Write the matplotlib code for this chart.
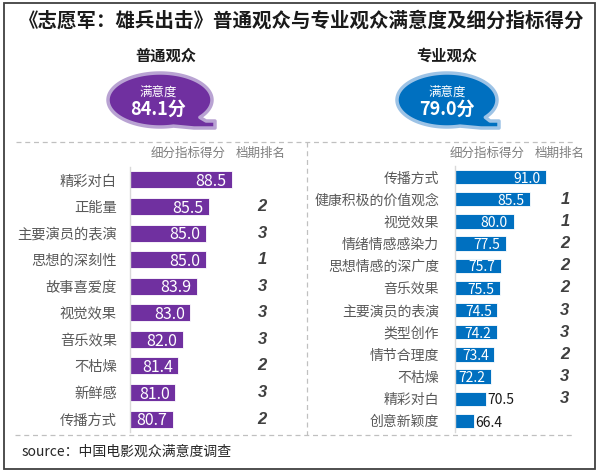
import matplotlib
matplotlib.use('Agg')
import matplotlib.pyplot as plt
import matplotlib.transforms as mtransforms
from matplotlib.patches import Polygon, Rectangle
import numpy as np

plt.rcParams['font.family'] = ['Noto Sans CJK SC', 'DejaVu Sans']

# ---- data ----
title = '《志愿军：雄兵出击》普通观众与专业观众满意度及细分指标得分'
groups = ['普通观众', '专业观众']
overall = [84.1, 79.0]

left_cats = ['精彩对白', '正能量', '主要演员的表演', '思想的深刻性', '故事喜爱度',
             '视觉效果', '音乐效果', '不枯燥', '新鲜感', '传播方式']
left_vals = [88.5, 85.5, 85.0, 85.0, 83.9, 83.0, 82.0, 81.4, 81.0, 80.7]
left_rank = ['', '2', '3', '1', '3', '3', '3', '2', '3', '2']

right_cats = ['传播方式', '健康积极的价值观念', '视觉效果', '情绪情感感染力', '思想情感的深广度',
              '音乐效果', '主要演员的表演', '类型创作', '情节合理度', '不枯燥', '精彩对白', '创意新颖度']
right_vals = [91.0, 85.5, 80.0, 77.5, 75.7, 75.5, 74.5, 74.2, 73.4, 72.2, 70.5, 66.4]
right_rank = ['', '1', '1', '2', '2', '2', '3', '3', '2', '3', '3', '']

PURPLE = '#7030A0'
BLUE = '#0070C0'
W, H = 600, 476

fig = plt.figure(figsize=(W / 100, H / 100), dpi=100)

# background axes in pixel coordinates (y down)
bg = fig.add_axes([0, 0, 1, 1])
bg.set_xlim(0, W)
bg.set_ylim(H, 0)
bg.axis('off')


def px_axes(x0, y0, x1, y1):
    return fig.add_axes([x0 / W, 1 - y1 / H, (x1 - x0) / W, (y1 - y0) / H])


# outer frame and dashed guides
bg.add_patch(Rectangle((4, 3), 591, 466, fill=False, ec='#404040', lw=1.3))
dash = dict(color='#c0c0c0', lw=0.9, ls=(0, (4, 3)))
bg.plot([16, 575], [142, 142], **dash)
bg.plot([15, 575], [435, 435], **dash)
bg.plot([307, 307], [142, 435], **dash)

bg.text(302, 21, title, ha='center', va='center', fontsize=14, fontweight='bold', color='#1a1a1a')


def bubble(cx, cy, a, b, tail_x, fc, ec):
    t1 = np.linspace(np.radians(75), np.radians(400), 120)
    pts = [(cx + a * np.cos(t), cy + b * np.sin(t)) for t in t1]
    pts += [(tail_x - 9, cy + 21), (tail_x, cy + 21), (tail_x, cy + 28), (cx + 34, cy + 28)]
    bg.add_patch(Polygon(pts, closed=True, fc=fc, ec=ec, lw=2.5, joinstyle='round'))


bubble(160, 100, 52, 27, 215, PURPLE, '#b9a3d3')
bubble(447, 100, 50, 27, 499, BLUE, '#9dc3e6')

for cx, name, sc in [(163, groups[0], overall[0]), (447, groups[1], overall[1])]:
    bg.text(cx + 3 if cx < 300 else cx, 56, name, ha='center', va='center', fontsize=11, fontweight='bold', color='#1a1a1a')
    bg.text(cx - 5 if cx < 300 else cx, 92, '满意度', ha='center', va='center', fontsize=9, color='white')
    bg.text(cx - 5 if cx < 300 else cx, 109, f'{sc:.1f}分', ha='center', va='center', fontsize=13,
            fontweight='bold', color='white')

for hx, rx in [(188, 261), (487, 560)]:
    bg.text(hx, 153, '细分指标得分', ha='center', va='center', fontsize=9, color='#7f7f7f')
    bg.text(rx, 153, '档期排名', ha='center', va='center', fontsize=9, color='#7f7f7f')

bg.text(22, 452, 'source：中国电影观众满意度调查', ha='left', va='center', fontsize=10, color='#262626')


def panel(ax, cats, vals, ranks, color, xmin, xmax, rank_x, pad, fs_val, fs_cat, inside_min):
    y = np.arange(len(cats))
    ax.barh(y, [v - xmin for v in vals], left=xmin, height=0.64, color=color, ec='white', lw=0.6)
    ax.set_xlim(xmin, xmax)
    ax.set_ylim(len(cats) - 0.5, -0.5)
    ax.set_yticks(y)
    ax.set_yticklabels(cats, fontsize=fs_cat, color='#595959')
    ax.tick_params(axis='y', length=0, pad=pad)
    ax.set_xticks([])
    for s in ['top', 'right', 'bottom']:
        ax.spines[s].set_visible(False)
    ax.spines['left'].set_color('#d9d9d9')
    ax.spines['left'].set_linewidth(1.0)
    ax.patch.set_alpha(0)
    for yi, v in zip(y, vals):
        if v - xmin >= inside_min:
            ax.annotate(f'{v:.1f}', (v, yi), xytext=(-4, -1.2), textcoords='offset points',
                        ha='right', va='center', fontsize=fs_val, color='white')
        else:
            ax.annotate(f'{v:.1f}', (v, yi), xytext=(1, -1.2), textcoords='offset points',
                        ha='left', va='center', fontsize=fs_val, color='#1a1a1a')
    tr = mtransforms.blended_transform_factory(bg.transData, ax.transData)
    for yi, r in zip(y, ranks):
        ax.text(rank_x, yi, r, transform=tr, ha='center', va='center', fontsize=12,
                fontstyle='italic', fontweight='bold', color='#404040', family='Liberation Sans')


axl = px_axes(130, 166.7, 281, 432.3)
panel(axl, left_cats, left_vals, left_rank, PURPLE, 75, 95, 262, 9.5, 11.5, 10.3, 3)

axr = px_axes(455, 166, 572, 432)
panel(axr, right_cats, right_vals, right_rank, BLUE, 60, 100, 565, 11.5, 10, 10, 11)

plt.savefig('out.png', dpi=100)
plt.close()
